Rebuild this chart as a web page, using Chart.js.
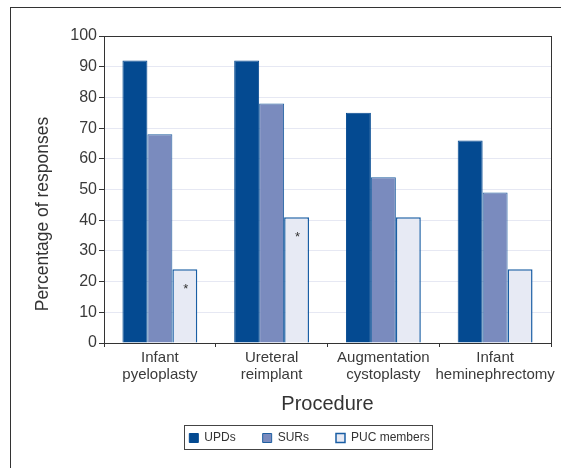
<html>
  <head>
    <script src="https://cdn.jsdelivr.net/npm/chart.js@4.4.1/dist/chart.umd.min.js"></script>
    <style>
      body {
        margin: 0;
        background: #ffffff;
      }
      #frame {
        position: absolute;
        left: 10px;
        top: 7px;
        width: 600px;
        height: 500px;
        border: 1px solid #333;
      }
      #chartCtn {
        position: absolute;
        left: 0;
        top: 0;
        width: 561px;
        height: 468px;
      }
    </style>
    <title>Procedure responses</title>
  </head>
  <body>
    <div id="frame"></div>
    <div id="chartCtn">
      <canvas id="canvas"></canvas>
    </div>

    <script type="text/javascript">
      var procedures = [["Infant", "pyeloplasty"], ["Ureteral", "reimplant"], ["Augmentation", "cystoplasty"], ["Infant", "heminephrectomy"]];
      var upds = [92, 92, 75, 66];
      var surs = [68, 78, 54, 49];
      var pucMembers = [24, 41, 41, 24];
      var starred = [true, true, false, false];

      var fontName = "'Liberation Sans', Arial, sans-serif";
      var legendShift = 34;

      // asterisks, y-axis title, plot frame, legend box
      var extras = {
        id: "extras",
        afterUpdate: function(chart){
          var lg = chart.legend;
          lg.left += legendShift;
          lg.right += legendShift;
          lg.legendHitBoxes.forEach(function(b){ b.left += legendShift; });
        },
        afterDraw: function(chart){
          var ctx = chart.ctx;
          var a = chart.chartArea;
          ctx.save();
          ctx.strokeStyle = "#333";
          ctx.lineWidth = 1;
          ctx.strokeRect(Math.round(a.left) + 0.5, Math.round(a.top) + 0.5, Math.round(a.right - a.left), Math.round(a.bottom - a.top));

          var meta = chart.getDatasetMeta(2);
          ctx.fillStyle = "#333";
          ctx.font = "13px " + fontName;
          ctx.textAlign = "center";
          ctx.textBaseline = "middle";
          for(var i = 0; i < starred.length; i++){
            if(starred[i]){
              var bar = meta.data[i];
              ctx.fillText("*", bar.x + 1, bar.y + 20);
            }
          }

          ctx.translate(43, 214);
          ctx.rotate(-Math.PI / 2);
          ctx.font = "17.5px " + fontName;
          ctx.fillStyle = "#333";
          ctx.fillText("Percentage of responses", 0, 0);
          ctx.restore();

          var boxes = chart.legend.legendHitBoxes;
          if(boxes && boxes.length){
            var first = boxes[0], last = boxes[boxes.length - 1];
            ctx.save();
            ctx.strokeStyle = "#444";
            ctx.lineWidth = 1;
            ctx.strokeRect(Math.round(first.left) - 4.5, Math.round(first.top) - 6.5, Math.round(last.left + last.width - first.left) + 8, 24);
            ctx.restore();
          }
        }
      };

      window.onload = function(){
        var ctx = document.getElementById("canvas");

        new Chart(ctx, {
          type: "bar",
          data: {
            labels: procedures,
            datasets: [{
              label: "UPDs",
              data: upds,
              backgroundColor: "#044a91",
              borderColor: "#044a91",
              borderWidth: 1
            }, {
              label: "SURs",
              data: surs,
              backgroundColor: "#7a8bbe",
              borderColor: "#1f5fa0",
              borderWidth: 1
            }, {
              label: "PUC members",
              data: pucMembers,
              backgroundColor: "#e7eaf4",
              borderColor: "#1a5ea4",
              borderWidth: 1.5
            }]
          },
          options: {
            responsive: true,
            maintainAspectRatio: false,
            animation: false,
            devicePixelRatio: 1,
            layout: {
              padding: {left: 0, right: 10, top: 36, bottom: 14}
            },
            datasets: {
              bar: {
                categoryPercentage: 0.67,
                barPercentage: 1.0
              }
            },
            scales: {
              x: {
                grid: {
                  drawOnChartArea: false,
                  drawTicks: true,
                  tickLength: 4,
                  color: "#333",
                  tickColor: "#333"
                },
                border: {color: "#333"},
                ticks: {
                  color: "#3a3a3a",
                  font: {family: fontName, size: 15, lineHeight: 1.1},
                  padding: 3,
                  maxRotation: 0,
                  autoSkip: false
                },
                title: {
                  display: true,
                  text: "Procedure",
                  color: "#333",
                  font: {family: fontName, size: 20},
                  padding: {top: 6, bottom: -11}
                }
              },
              y: {
                min: 0,
                max: 100,
                afterFit: function(scale){ scale.width = 104; },
                grid: {
                  color: "#e6e8f3",
                  tickColor: "#333",
                  tickLength: 5
                },
                border: {color: "#333"},
                ticks: {
                  stepSize: 10,
                  color: "#3a3a3a",
                  font: {family: fontName, size: 16},
                  padding: 2
                }
              }
            },
            plugins: {
              legend: {
                display: true,
                position: "bottom",
                labels: {
                  boxWidth: 9,
                  boxHeight: 9,
                  padding: 27,
                  color: "#333",
                  font: {family: fontName, size: 12}
                }
              },
              tooltip: {enabled: false}
            }
          },
          plugins: [extras]
        });
      };
    </script>
  </body>
</html>
